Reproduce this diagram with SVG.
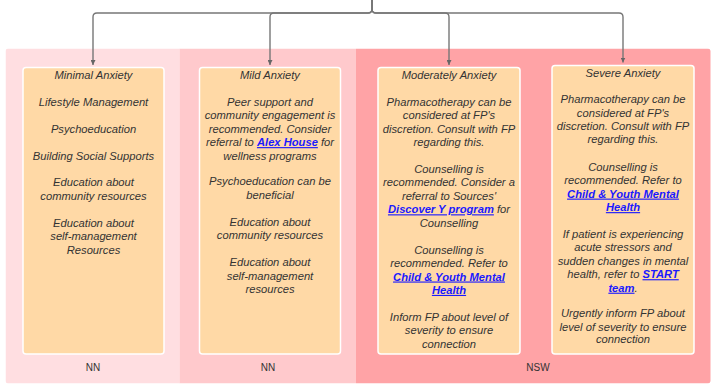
<svg xmlns="http://www.w3.org/2000/svg" width="712" height="392" viewBox="0 0 712 392">
<defs>
<style>
.t{font-family:"Liberation Sans",Arial,sans-serif;font-size:11.2px;font-style:italic;fill:#333;text-anchor:middle}
.lk{font-weight:bold;fill:#1a1aff;text-decoration:underline}
.lbl{font-family:"Liberation Sans",Arial,sans-serif;font-size:10px;fill:#333;text-anchor:middle}
.node{fill:#ffd9a6;stroke:#ffffff;stroke-width:1.5}
.conn{fill:none;stroke:#777;stroke-width:1.4}
</style>
<clipPath id="pc"><rect x="5.5" y="48.5" width="705" height="335" rx="3"/></clipPath>
<marker id="ah" viewBox="0 0 10 10" refX="10" refY="5" markerWidth="5" markerHeight="5" markerUnits="userSpaceOnUse" orient="auto"><path d="M0,0 L10,5 L0,10 z" fill="#666"/></marker>
</defs>
<g id="panels" clip-path="url(#pc)">
<rect x="5.5" y="48.5" width="174" height="335" fill="#ffdee1"/>
<rect x="179.5" y="48.5" width="176.5" height="335" fill="#ffc9cc"/>
<rect x="356" y="48.5" width="355" height="335" fill="#ffa3a6"/>
</g>
<g id="panel-labels">
<text class="lbl" x="93" y="371">NN</text>
<text class="lbl" x="268" y="371">NN</text>
<text class="lbl" x="538" y="371">NSW</text>
</g>
<g id="connectors">
<path class="conn" d="M372,0 V9 Q372,13 368,13 H97 Q93,13 93,17 V65" marker-end="url(#ah)"/>
<path class="conn" d="M372,0 V9 Q372,13 368,13 H274 Q270,13 270,17 V65" marker-end="url(#ah)"/>
<path class="conn" d="M372,0 V9 Q372,13 376,13 H445 Q449,13 449,17 V65" marker-end="url(#ah)"/>
<path class="conn" d="M372,0 V9 Q372,13 376,13 H619 Q623,13 623,17 V62.5" marker-end="url(#ah)"/>
</g>
<g id="node-minimal">
<rect class="node" x="23" y="67.5" width="141" height="286.5" rx="3"/>
<text class="t" x="93.5" y="78.9">Minimal Anxiety</text>
<text class="t" x="93.5" y="105.8">Lifestyle Management</text>
<text class="t" x="93.5" y="132.7">Psychoeducation</text>
<text class="t" x="93.5" y="159.5">Building Social Supports</text>
<text class="t" x="93.5" y="186.4">Education about</text>
<text class="t" x="93.5" y="199.9">community resources</text>
<text class="t" x="93.5" y="226.7">Education about</text>
<text class="t" x="93.5" y="240.2">self-management</text>
<text class="t" x="93.5" y="253.6">Resources</text>
</g>
<g id="node-mild">
<rect class="node" x="199.5" y="67.5" width="141" height="286.5" rx="3"/>
<text class="t" x="270" y="78.9">Mild Anxiety</text>
<text class="t" x="270" y="105.8">Peer support and</text>
<text class="t" x="270" y="119.2">community engagement is</text>
<text class="t" x="270" y="132.7">recommended. Consider</text>
<text class="t" x="270" y="146.1">referral to <tspan class="lk">Alex House</tspan> for</text>
<text class="t" x="270" y="159.5">wellness programs</text>
<text class="t" x="270" y="185.4">Psychoeducation can be</text>
<text class="t" x="270" y="198.9">beneficial</text>
<text class="t" x="270" y="225.7">Education about</text>
<text class="t" x="270" y="239.2">community resources</text>
<text class="t" x="270" y="266.1">Education about</text>
<text class="t" x="270" y="279.5">self-management</text>
<text class="t" x="270" y="292.9">resources</text>
</g>
<g id="node-moderate">
<rect class="node" x="378" y="67.5" width="142" height="286.5" rx="3"/>
<text class="t" x="449" y="78.9">Moderately Anxiety</text>
<text class="t" x="449" y="105.8">Pharmacotherapy can be</text>
<text class="t" x="449" y="119.2">considered at FP's</text>
<text class="t" x="449" y="132.7">discretion. Consult with FP</text>
<text class="t" x="449" y="146.1">regarding this.</text>
<text class="t" x="449" y="173.0">Counselling is</text>
<text class="t" x="449" y="186.4">recommended. Consider a</text>
<text class="t" x="449" y="199.9">referral to Sources'</text>
<text class="t" x="449" y="213.3"><tspan class="lk">Discover Y program</tspan> for</text>
<text class="t" x="449" y="226.7">Counselling</text>
<text class="t" x="449" y="253.6">Counselling is</text>
<text class="t" x="449" y="267.1">recommended. Refer to</text>
<text class="t" x="449" y="280.5"><tspan class="lk">Child &amp; Youth Mental</tspan></text>
<text class="t" x="449" y="293.9"><tspan class="lk">Health</tspan></text>
<text class="t" x="449" y="320.8">Inform FP about level of</text>
<text class="t" x="449" y="334.3">severity to ensure</text>
<text class="t" x="449" y="347.7">connection</text>
</g>
<g id="node-severe">
<rect class="node" x="552" y="65.5" width="142" height="288.5" rx="3"/>
<text class="t" x="623" y="76.6">Severe Anxiety</text>
<text class="t" x="623" y="103.2">Pharmacotherapy can be</text>
<text class="t" x="623" y="116.6">considered at FP's</text>
<text class="t" x="623" y="129.9">discretion. Consult with FP</text>
<text class="t" x="623" y="143.2">regarding this.</text>
<text class="t" x="623" y="170.6">Counselling is</text>
<text class="t" x="623" y="183.9">recommended. Refer to</text>
<text class="t" x="623" y="197.6"><tspan class="lk">Child &amp; Youth Mental</tspan></text>
<text class="t" x="623" y="211.1"><tspan class="lk">Health</tspan></text>
<text class="t" x="623" y="238.0">If patient is experiencing</text>
<text class="t" x="623" y="251.4">acute stressors and</text>
<text class="t" x="623" y="264.8">sudden changes in mental</text>
<text class="t" x="623" y="278.2">health, refer to <tspan class="lk">START </tspan></text>
<text class="t" x="623" y="291.7"><tspan class="lk">team</tspan>.</text>
<text class="t" x="623" y="317.2">Urgently inform FP about</text>
<text class="t" x="623" y="330.6">level of severity to ensure</text>
<text class="t" x="623" y="343.4">connection</text>
</g>
</svg>
